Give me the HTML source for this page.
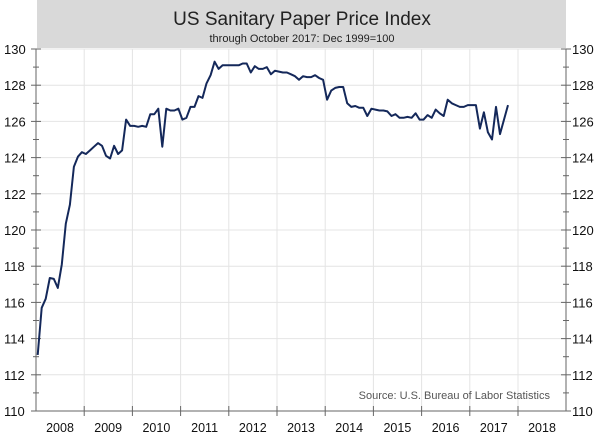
<!DOCTYPE html><html><head><style>body{margin:0;background:#fff}svg{display:block;font-family:"Liberation Sans",sans-serif}</style></head><body>
<svg id="s" width="605" height="439" xmlns="http://www.w3.org/2000/svg">
<rect x="37" y="0" width="529" height="48" fill="#d9d9d9"/>
<text x="302" y="25" text-anchor="middle" font-size="19" fill="#222">US Sanitary Paper Price Index</text>
<text x="302" y="42" text-anchor="middle" font-size="11" fill="#222">through October 2017: Dec 1999=100</text>
<g id="g"></g>
<text x="550" y="399" text-anchor="end" font-size="11" fill="#555">Source: U.S. Bureau of Labor Statistics</text>
</svg>
<script>
const s=document.getElementById('g');let h='';
const L=36,R=566,T=49,B=411,Y=v=>T+(130-v)*(B-T)/20;
for(let v=112;v<=130;v+=2)h+=`<line x1="${L}" x2="${R}" y1="${Y(v)}" y2="${Y(v)}" stroke="#e4e4e4"/>`;
for(let i=1;i<11;i++){let x=L+i*48.2;h+=`<line x1="${x}" x2="${x}" y1="${T}" y2="${B}" stroke="#e4e4e4"/><line x1="${x}" x2="${x}" y1="${B-5}" y2="${B+5}" stroke="#666"/>`;}
for(let i=0;i<11;i++)h+=`<text x="${L+24+i*48.2}" y="432" text-anchor="middle" font-size="12.5" fill="#111">${2008+i}</text>`;
h+=`<line x1="${L}" x2="${L}" y1="${T}" y2="${B}" stroke="#666"/><line x1="${R}" x2="${R}" y1="${T}" y2="${B}" stroke="#666"/><line x1="${L}" x2="${R}" y1="${B}" y2="${B}" stroke="#666"/>`;
for(let v=110;v<=130;v++){let y=Y(v),w=v%2?3:5;h+=`<line x1="${L-w}" x2="${L+w}" y1="${y}" y2="${y}" stroke="#666"/><line x1="${R-w}" x2="${R+w}" y1="${y}" y2="${y}" stroke="#666"/>`;
if(v%2==0){h+=`<text x="4" y="${y+5}" font-size="13" fill="#111">${v}</text><text x="572" y="${y+5}" font-size="13" fill="#111">${v}</text>`;}}
const d=[113.1,115.7,116.2,117.35,117.3,116.8,118.1,120.35,121.4,123.5,124.05,124.3,
124.2,124.4,124.6,124.8,124.65,124.1,123.95,124.65,124.2,124.4,126.1,125.75,
125.75,125.7,125.75,125.7,126.4,126.4,126.7,124.6,126.7,126.6,126.6,126.7,
126.1,126.2,126.8,126.8,127.4,127.3,128.1,128.55,129.3,128.9,129.1,129.1,
129.1,129.1,129.1,129.2,129.2,128.7,129.05,128.9,128.9,129.0,128.6,128.8,
128.75,128.7,128.7,128.6,128.5,128.3,128.5,128.45,128.45,128.55,128.4,128.3,
127.2,127.7,127.85,127.9,127.9,127.0,126.8,126.85,126.75,126.75,126.3,126.7,
126.65,126.6,126.6,126.55,126.3,126.4,126.2,126.2,126.25,126.2,126.45,126.1,
126.1,126.35,126.2,126.65,126.45,126.3,127.2,127.0,126.9,126.8,126.8,126.9,
126.9,126.9,125.6,126.5,125.4,125.0,126.8,125.3,126.1,126.9];
h+=`<polyline fill="none" stroke="#14285a" stroke-width="2" stroke-linejoin="round" points="${d.map((v,m)=>(37.7+m*4.02).toFixed(1)+','+Y(v).toFixed(1)).join(' ')}"/>`;
s.innerHTML=h;
</script></body></html>
